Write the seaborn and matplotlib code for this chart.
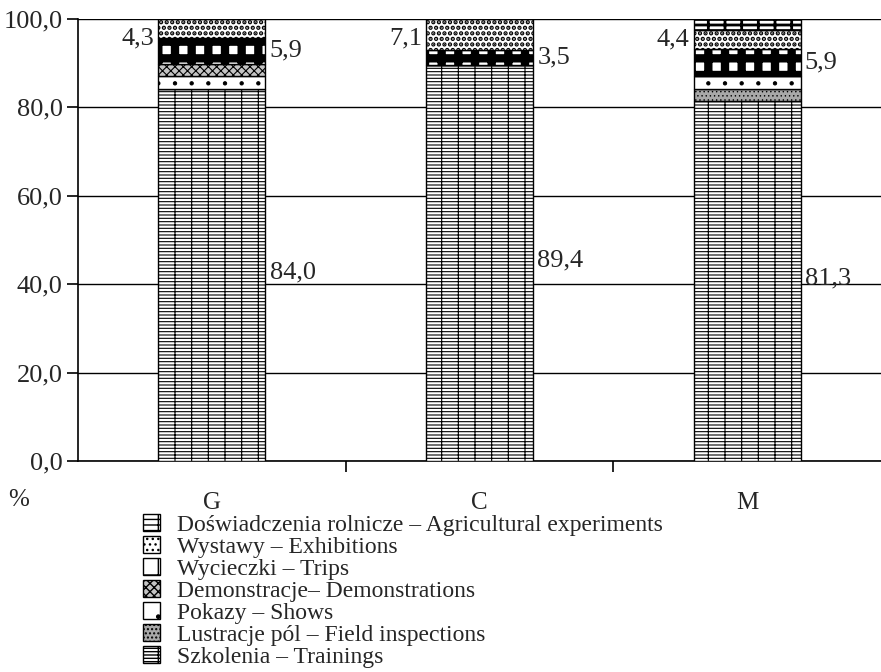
import matplotlib
matplotlib.use('Agg')
import matplotlib.pyplot as plt
import seaborn as sns
import numpy as np
from matplotlib.patches import Patch
from matplotlib.ticker import FuncFormatter, FixedLocator

# Data (shares in %, stacked bottom -> top)
categories = ['G', 'C', 'M']
szkolenia = [84.0, 89.4, 81.3]
lustracje = [0.0, 0.0, 2.8]
pokazy = [3.0, 0.0, 3.0]
demonstracje = [2.8, 0.0, 0.0]
wycieczki = [5.9, 3.5, 5.9]
wystawy = [4.3, 7.1, 4.4]
doswiadczenia = [0.0, 0.0, 2.6]

series_names = ['Szkolenia – Trainings',
                'Lustracje pól – Field inspections',
                'Pokazy – Shows',
                'Demonstracje– Demonstrations',
                'Wycieczki – Trips',
                'Wystawy – Exhibitions',
                'Doświadczenia rolnicze – Agricultural experiments']
series_values = [szkolenia, lustracje, pokazy, demonstracje,
                 wycieczki, wystawy, doswiadczenia]

# styles: facecolor, hatch, hatch linewidth
styles = [('white', '-----|', 0.8),
          ('#a8a8a8', '....', 0.5),
          ('white', '.', 0.7),
          ('#c4c4c4', 'xxxx', 0.8),
          ('white', '+', 6.0),
          ('white', '...', 2.2),
          ('white', '---|', 2.0)]

sns.set_theme(style='white')
plt.rcParams['font.family'] = ['Liberation Serif', 'DejaVu Serif']
plt.rcParams['hatch.color'] = 'black'

fs = 19

fig = plt.figure(figsize=(8.81, 6.72), dpi=100)
ax = fig.add_axes([78 / 881, 1 - 461 / 672, (881 - 78) / 881, (461 - 18.5) / 672])

bar_w = 0.4
bottom = np.zeros(len(categories))
for name, vals, (fc, hatch, hlw) in zip(series_names, series_values, styles):
    sns.barplot(x=categories, y=vals, bottom=bottom, width=bar_w,
                color=fc, edgecolor='black', linewidth=1.0,
                saturation=1, ax=ax, zorder=3)
    for p in ax.containers[-1]:
        p.set_facecolor(fc)
        p.set_hatch(hatch)
        if hasattr(p, 'set_hatch_linewidth'):
            p.set_hatch_linewidth(hlw)
    bottom = bottom + np.array(vals)

ax.set_xlim(-0.5, 2.5)
ax.set_ylim(0, 100)
ax.set_yticks([0, 20, 40, 60, 80, 100])
ax.yaxis.set_major_formatter(FuncFormatter(lambda v, _: f'{v:.1f}'.replace('.', ',')))
ax.grid(axis='y', color='black', linewidth=1.0)
ax.grid(axis='x', visible=False)
ax.set_axisbelow(True)

for side in ['top', 'right']:
    ax.spines[side].set_visible(False)
for side in ['left', 'bottom']:
    ax.spines[side].set_color('black')
    ax.spines[side].set_linewidth(1.2)

ax.tick_params(axis='y', which='major', direction='out', length=8, width=1.2,
               color='black', labelsize=fs, pad=3, left=True)
ax.tick_params(axis='x', which='major', length=0, labelsize=18, pad=22)
ax.xaxis.set_minor_locator(FixedLocator([0.5, 1.5]))
ax.tick_params(axis='x', which='minor', direction='out', length=8, width=1.2,
               color='black', bottom=True)
ax.set_xlabel('')
ax.set_ylabel('')

fig.text(8 / 881, 1 - 500 / 672, '%', fontsize=18, ha='left', va='center')

# value labels
cum = np.cumsum(np.array(series_values), axis=0)
for i in range(len(categories)):
    x_left = i - bar_w / 2
    x_right = i + bar_w / 2
    mid_tr = szkolenia[i] / 2
    ax.annotate(f'{szkolenia[i]:.1f}'.replace('.', ','), (x_right, mid_tr),
                xytext=(3, 2), textcoords='offset points',
                ha='left', va='center', fontsize=fs)
    mid_trips = cum[4, i] - wycieczki[i] / 2
    ax.annotate(f'{wycieczki[i]:.1f}'.replace('.', ','), (x_right, mid_trips),
                xytext=(3, 0), textcoords='offset points',
                ha='left', va='center', fontsize=fs)
    mid_exh = min(cum[5, i] - wystawy[i] / 2, 95.5)
    ax.annotate(f'{wystawy[i]:.1f}'.replace('.', ','), (x_left, mid_exh),
                xytext=(-3, 0), textcoords='offset points',
                ha='right', va='center', fontsize=fs)

# legend (top entry = top of stack)
handles = []
for name, (fc, hatch, hlw) in zip(series_names, styles):
    h = Patch(facecolor=fc, edgecolor='black', hatch=hatch, linewidth=1.0, label=name)
    if hasattr(h, 'set_hatch_linewidth'):
        h.set_hatch_linewidth(min(hlw, 1.5))
    handles.append(h)
handles = handles[::-1]
fig.legend(handles=handles, loc='upper left',
           bbox_to_anchor=(143 / 881, 1 - 514 / 672),
           frameon=False, fontsize=17, handlelength=0.7, handleheight=0.7,
           handletextpad=0.75, labelspacing=0.02, borderpad=0, borderaxespad=0)

fig.savefig('out.png', dpi=100)
